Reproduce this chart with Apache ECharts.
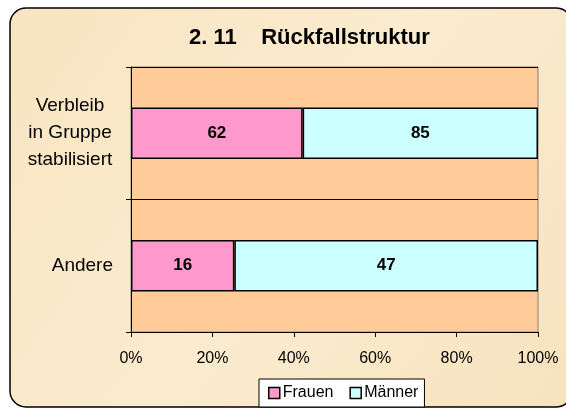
<!DOCTYPE html>
<html>
<head>
<meta charset="utf-8">
<script src="https://cdn.jsdelivr.net/npm/echarts@6/dist/echarts.min.js"></script>
<style>html,body{margin:0;padding:0;background:#fff}#c{width:566px;height:408px}</style>
</head>
<body>
<div id="c"></div>
<script>
var categories = ['Verbleib\nin Gruppe\nstabilisiert', 'Andere'];
var frauen = [62, 16];
var maenner = [85, 47];
var xTicks = [0, 20, 40, 60, 80, 100];

var totals = categories.map(function (c, i) { return frauen[i] + maenner[i]; });
var pct = function (arr) { return arr.map(function (v, i) { return v / totals[i] * 100; }); };
var raw = { 'Frauen': frauen, 'Männer': maenner };

var chart = echarts.init(document.getElementById('c'));
var font = 'Arial, "Liberation Sans", sans-serif';
chart.setOption({
  animation: false,
  textStyle: { fontFamily: font },
  graphic: [{
    type: 'rect', z: -10, silent: true,
    shape: { x: 10, y: 8, width: 562, height: 399, r: 16 },
    style: {
      fill: new echarts.graphic.LinearGradient(0, 0, 1, 1, [
        { offset: 0, color: '#F8E4C0' },
        { offset: 0.5, color: '#FBECCF' },
        { offset: 1, color: '#F7E2BE' }
      ]),
      stroke: '#000', lineWidth: 1.5
    }
  }],
  title: {
    text: '2. 11    Rückfallstruktur',
    left: 189, top: 27, padding: 0,
    textStyle: { fontSize: 22, fontWeight: 'bold', color: '#000', fontFamily: font }
  },
  legend: {
    left: 259, top: 379,
    padding: [6, 6, 6, 9],
    itemGap: 16,
    itemWidth: 11, itemHeight: 11,
    icon: 'rect',
    backgroundColor: '#fff',
    borderColor: '#000', borderWidth: 1,
    textStyle: { fontSize: 16, color: '#000', padding: [0, 0, 0, -2] },
    itemStyle: { borderColor: '#000', borderWidth: 1.5 },
    data: ['Frauen', 'Männer']
  },
  grid: {
    left: 131, right: 28, top: 67, bottom: 76,
    show: true, backgroundColor: '#FFCC99', borderColor: '#808080', borderWidth: 1
  },
  xAxis: {
    type: 'value', min: 0, max: 100, interval: 20,
    axisLine: { show: true, lineStyle: { color: '#000', width: 1 } },
    axisTick: { show: true, length: 5, lineStyle: { color: '#000' } },
    splitLine: { show: false },
    axisLabel: {
      fontSize: 16, color: '#000', margin: 19,
      formatter: function (v) { return xTicks.indexOf(v) >= 0 ? v + '%' : ''; }
    }
  },
  yAxis: {
    type: 'category', inverse: true, data: categories,
    axisLine: { show: true, lineStyle: { color: '#000', width: 1 } },
    axisTick: { show: true, length: 5, lineStyle: { color: '#000' } },
    splitLine: { show: true, lineStyle: { color: '#000', width: 1 } },
    axisLabel: {
      fontSize: 19, color: '#000', margin: 18, align: 'right', lineHeight: 27,
      formatter: function (v) {
        if (v.indexOf('\n') < 0) return v;
        return v.split('\n').map(function (l) { return '{c|' + l + '}'; }).join('\n');
      },
      rich: { c: { width: 86, align: 'center', fontSize: 19, lineHeight: 27, color: '#000' } }
    }
  },
  series: [
    {
      name: 'Frauen', type: 'bar', stack: 'a', barWidth: '39%',
      data: pct(frauen),
      itemStyle: { color: '#FF99CC', borderColor: '#000', borderWidth: 1.5 },
      label: { show: true, position: 'inside', fontSize: 17, fontWeight: 'bold', color: '#000',
        formatter: function (p) { return raw[p.seriesName][p.dataIndex]; } }
    },
    {
      name: 'Männer', type: 'bar', stack: 'a', barWidth: '39%',
      data: pct(maenner),
      itemStyle: { color: '#CCFFFF', borderColor: '#000', borderWidth: 1.5 },
      label: { show: true, position: 'inside', fontSize: 17, fontWeight: 'bold', color: '#000',
        formatter: function (p) { return raw[p.seriesName][p.dataIndex]; } }
    }
  ]
});
</script>
</body>
</html>
